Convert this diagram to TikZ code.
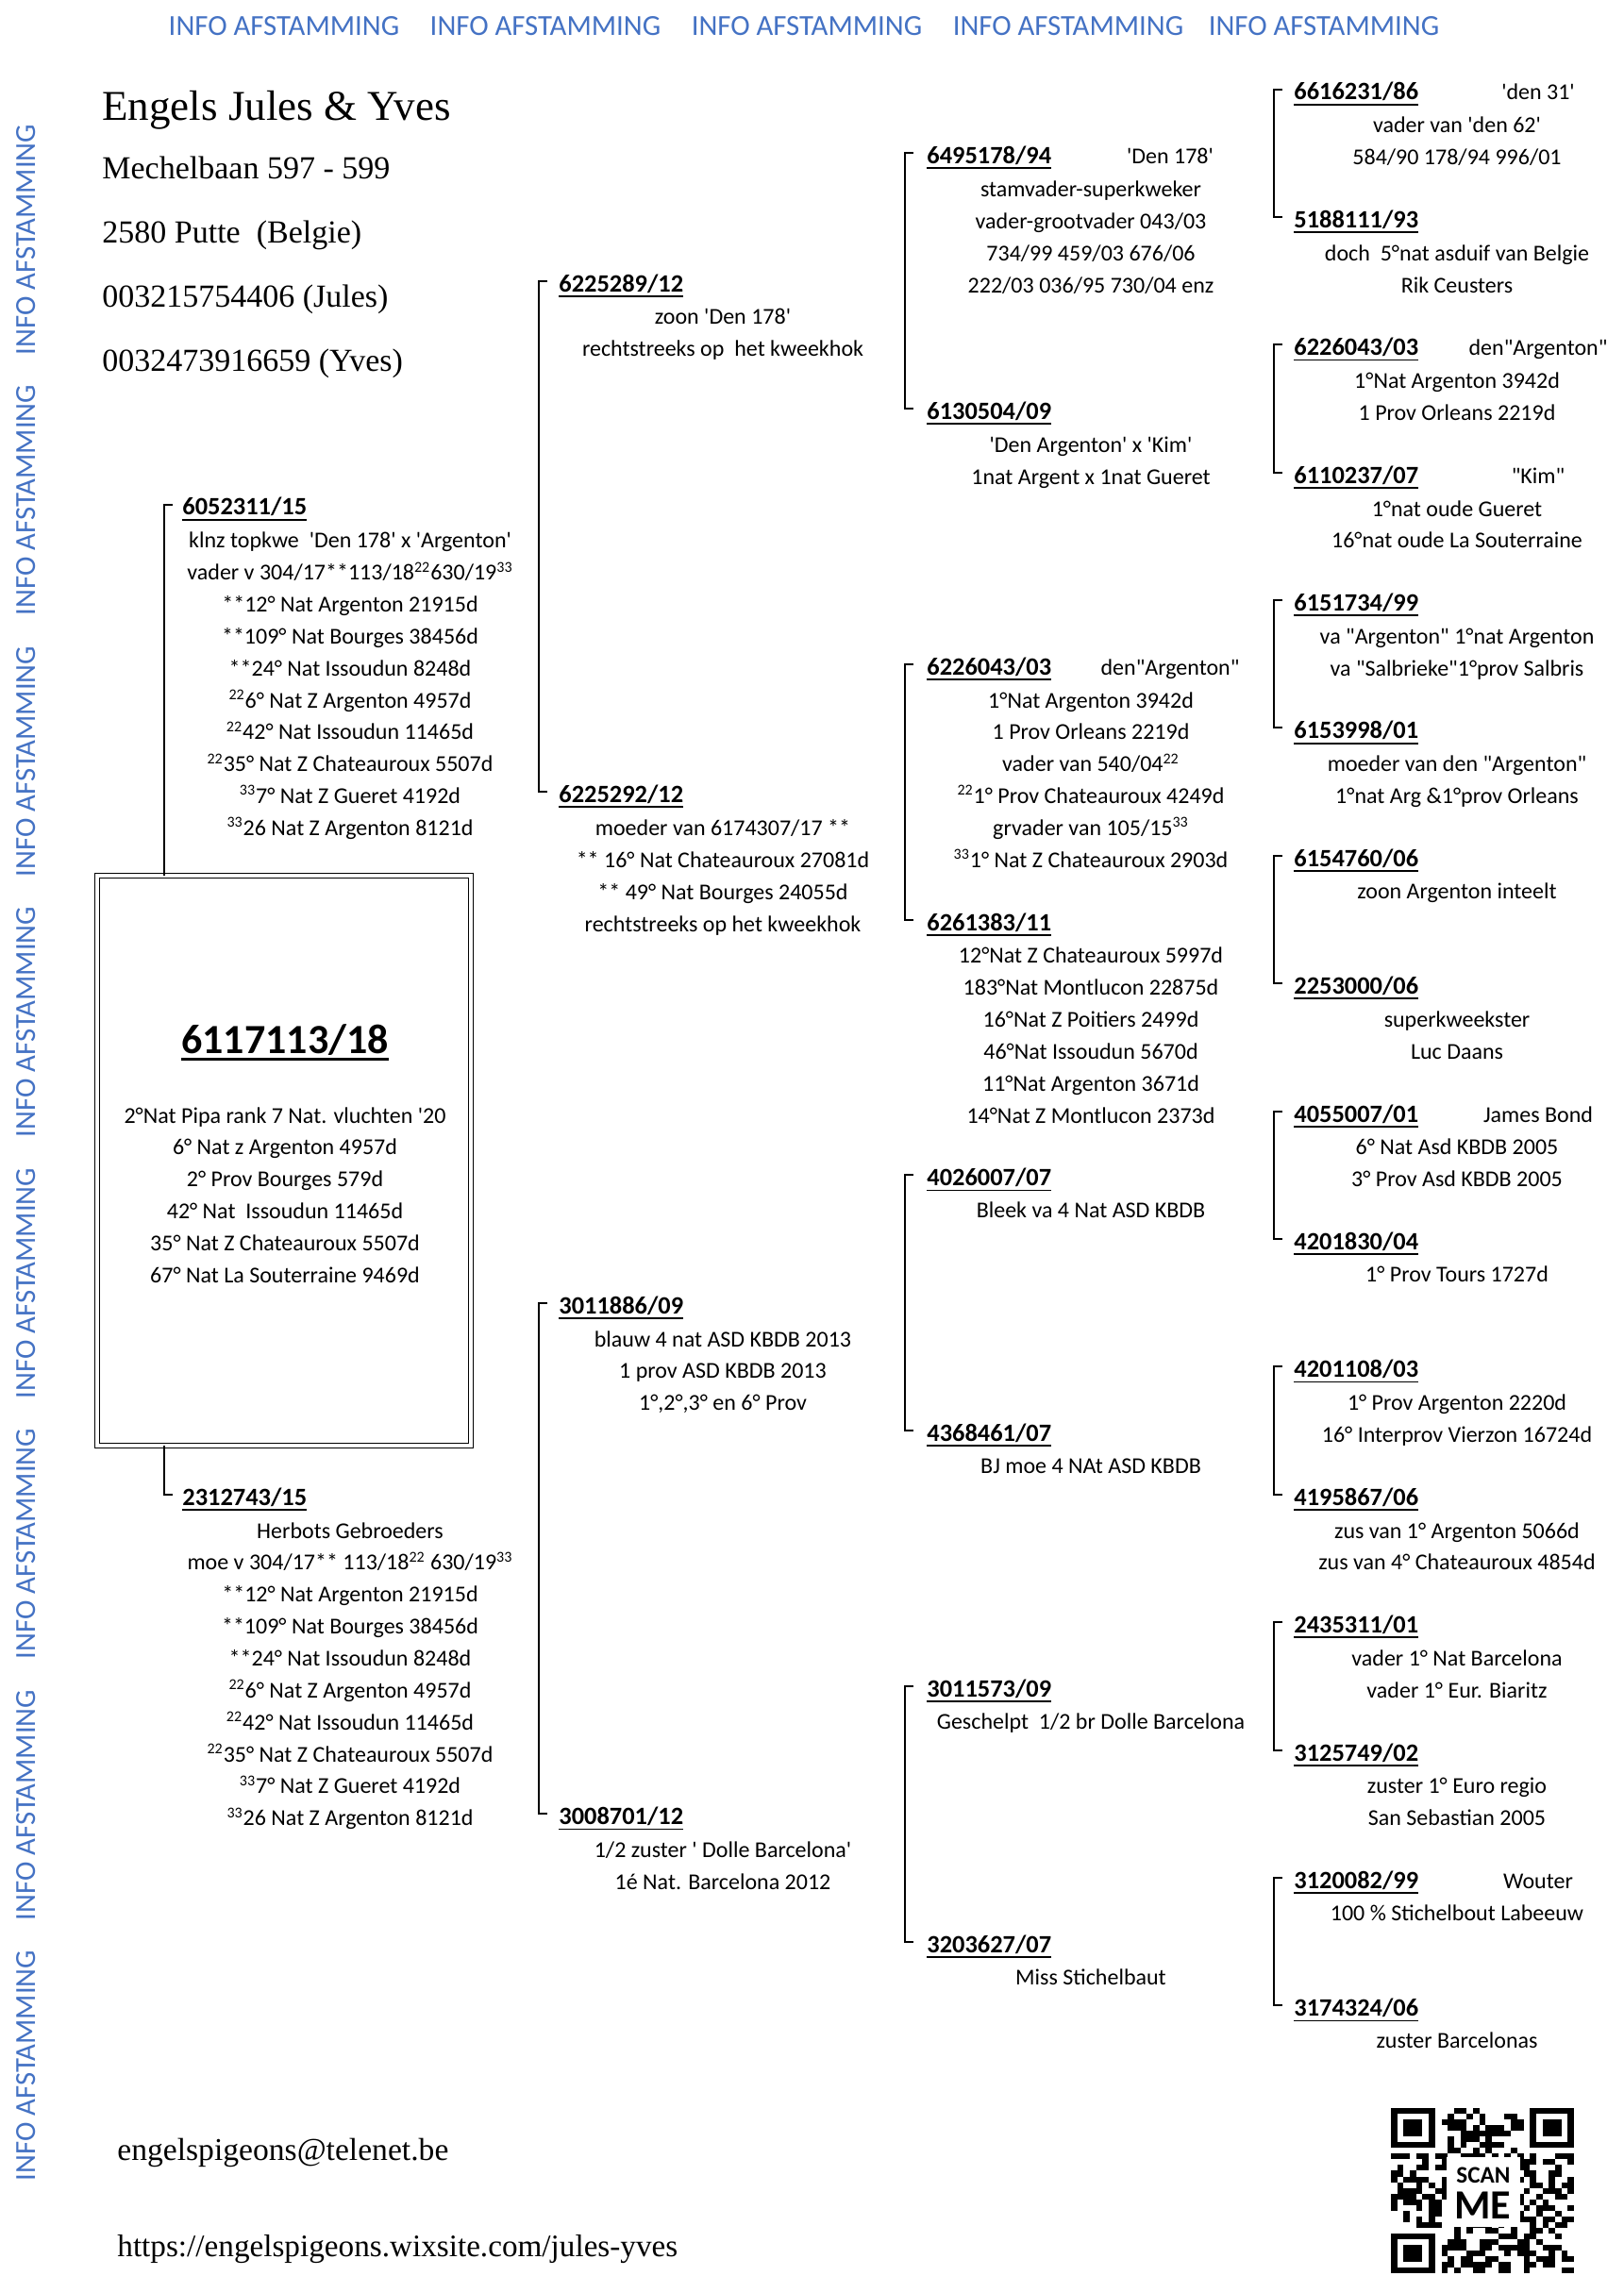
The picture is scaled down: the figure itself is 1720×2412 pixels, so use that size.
\documentclass[tikz,border=0pt]{standalone}
\usepackage{fontspec}
\newfontfamily\calibri{Carlito}[Ligatures=TeXOff]
\newfontfamily\headfont{Liberation Serif}
\definecolor{infoBlue}{HTML}{4472C4}
% row grid of the pedigree, in pixels of the page
\newcommand\rowy[1]{97+33.846*(#1)}
% underlined text: depth, thickness, text
\newcommand\undl[3]{\setbox0=\hbox{#3}\rlap{\copy0}\rule[-#1]{\wd0}{#2}}
\newcommand\idul[1]{\undl{2.8pt}{0.9pt}{#1}}
\tikzset{
  banner/.style={text=infoBlue, inner sep=0pt, font=\calibri\fontsize{15.4}{18}\selectfont},
  heading/.style={anchor=base west, inner sep=0pt, font=\headfont\fontsize{22.5}{26}\selectfont},
  address/.style={anchor=base west, inner sep=0pt, font=\headfont\fontsize{17}{20}\selectfont},
  pid/.style={anchor=base west, inner sep=0pt, font=\calibri\fontsize{13.2}{16}\selectfont\bfseries},
  nick/.style={anchor=base, inner sep=0pt, font=\calibri\fontsize{12}{16.92}\selectfont},
  info/.style={anchor=north, align=center, inner sep=0pt, font=\calibri\fontsize{12}{16.92}\selectfont, execute at begin node=\strut},
  subject/.style={draw, double, double distance=2pt, line width=0.6pt, minimum width=197.8pt, minimum height=301.8pt, inner sep=0pt},
  subjid/.style={anchor=base, inner sep=0pt, font=\calibri\fontsize{22}{26}\selectfont\bfseries},
  bracket/.style={draw, line width=1pt}
}
\begin{document}
\begin{tikzpicture}[x=0.5pt, y=-0.5pt]
  \useasboundingbox (0,0) rectangle (1720,2412);
  \fill[white] (0,0) rectangle (1720,2412);

  % banners
  \foreach \xx [count=\n] in {301,578,855,1132,1403}
    \node[banner] (top\n) at (\xx,28) {INFO AFSTAMMING};
  \foreach \yy [count=\n] in {254,530,807,1083,1360,1636,1913,2189}
    \node[banner, rotate=90] (side\n) at (28,\yy) {INFO AFSTAMMING};

  % breeder
  \node[heading] (name) at (108,128) {Engels Jules \& Yves};
  \node[address] (street) at (108,190) {Mechelbaan 597 - 599};
  \node[address] (town) at (108,258) {2580 Putte~ (Belgie)};
  \node[address] (telj) at (108,326) {003215754406 (Jules)};
  \node[address] (tely) at (108,394) {0032473916659 (Yves)};
  \node[address, font=\headfont\fontsize{16.8}{20}\selectfont] (mail) at (124,2289) {engelspigeons@telenet.be};
  \node[address, font=\headfont\fontsize{16.6}{20}\selectfont] (site) at (124,2391) {https://engelspigeons.wixsite.com/jules-yves};

  % the bird
  \node[subject] (subject) at (301,1230) {};
  \node[subjid] (subjid) at (302,1116) {\undl{3.8pt}{1.4pt}{6117113/18}};
  \node[info] (subjinfo) at (302,{\rowy{32}-7}) {2°Nat Pipa rank 7 Nat. vluchten '20\\6° Nat z Argenton 4957d\\2° Prov Bourges 579d\\42° Nat~ Issoudun 11465d\\35° Nat Z Chateauroux 5507d\\67° Nat La Souterraine 9469d};

  % parents
  \node[pid] (sire) at (193,{\rowy{13}+9}) {\idul{6052311/15}};
  \node[info] (sireinfo) at (371,{\rowy{14}-7}) {klnz topkwe~ 'Den 178' x 'Argenton'\\vader v 304/17**113/18\textsuperscript{22}630/19\textsuperscript{33}\\**12° Nat Argenton 21915d\\**109° Nat Bourges 38456d\\**24° Nat Issoudun 8248d\\\textsuperscript{22}6° Nat Z Argenton 4957d\\\textsuperscript{22}42° Nat Issoudun 11465d\\\textsuperscript{22}35° Nat Z Chateauroux 5507d\\\textsuperscript{33}7° Nat Z Gueret 4192d\\\textsuperscript{33}26 Nat Z Argenton 8121d};
  \node[pid] (dam) at (193,{\rowy{44}+9}) {\idul{2312743/15}};
  \node[info] (daminfo) at (371,{\rowy{45}-7}) {Herbots Gebroeders\\moe v 304/17** 113/18\textsuperscript{22} 630/19\textsuperscript{33}\\**12° Nat Argenton 21915d\\**109° Nat Bourges 38456d\\**24° Nat Issoudun 8248d\\\textsuperscript{22}6° Nat Z Argenton 4957d\\\textsuperscript{22}42° Nat Issoudun 11465d\\\textsuperscript{22}35° Nat Z Chateauroux 5507d\\\textsuperscript{33}7° Nat Z Gueret 4192d\\\textsuperscript{33}26 Nat Z Argenton 8121d};

  % grandparents
  \node[pid] (ss) at (592,{\rowy{6}+9}) {\idul{6225289/12}};
  \node[info] (ssinfo) at (766,{\rowy{7}-7}) {zoon 'Den 178'\\rechtstreeks op~ het kweekhok};
  \node[pid] (sd) at (592,{\rowy{22}+9}) {\idul{6225292/12}};
  \node[info] (sdinfo) at (766,{\rowy{23}-7}) {moeder van 6174307/17 **\\** 16° Nat Chateauroux 27081d\\** 49° Nat Bourges 24055d\\rechtstreeks op het kweekhok};
  \node[pid] (ds) at (592,{\rowy{38}+9}) {\idul{3011886/09}};
  \node[info] (dsinfo) at (766,{\rowy{39}-7}) {blauw 4 nat ASD KBDB 2013\\1 prov ASD KBDB 2013\\1°,2°,3° en 6° Prov};
  \node[pid] (dd) at (592,{\rowy{54}+9}) {\idul{3008701/12}};
  \node[info] (ddinfo) at (766,{\rowy{55}-7}) {1/2 zuster ' Dolle Barcelona'\\1é Nat. Barcelona 2012};

  % great-grandparents
  \node[pid] (sss) at (982,{\rowy{2}+9}) {\idul{6495178/94}};
  \node[nick] (sssnick) at (1240,{\rowy{2}+9}) {'Den 178'};
  \node[info] (sssinfo) at (1156,{\rowy{3}-7}) {stamvader-superkweker\\vader-grootvader 043/03\\734/99 459/03 676/06\\222/03 036/95 730/04 enz};
  \node[pid] (ssd) at (982,{\rowy{10}+9}) {\idul{6130504/09}};
  \node[info] (ssdinfo) at (1156,{\rowy{11}-7}) {'Den Argenton' x 'Kim'\\1nat Argent x 1nat Gueret};
  \node[pid] (sds) at (982,{\rowy{18}+9}) {\idul{6226043/03}};
  \node[nick] (sdsnick) at (1240,{\rowy{18}+9}) {den"Argenton"};
  \node[info] (sdsinfo) at (1156,{\rowy{19}-7}) {1°Nat Argenton 3942d\\1 Prov Orleans 2219d\\vader van 540/04\textsuperscript{22}\\\textsuperscript{22}1° Prov Chateauroux 4249d\\grvader van 105/15\textsuperscript{33}\\\textsuperscript{33}1° Nat Z Chateauroux 2903d};
  \node[pid] (sdd) at (982,{\rowy{26}+9}) {\idul{6261383/11}};
  \node[info] (sddinfo) at (1156,{\rowy{27}-7}) {12°Nat Z Chateauroux 5997d\\183°Nat Montlucon 22875d\\16°Nat Z Poitiers 2499d\\46°Nat Issoudun 5670d\\11°Nat Argenton 3671d\\14°Nat Z Montlucon 2373d};
  \node[pid] (dss) at (982,{\rowy{34}+9}) {\idul{4026007/07}};
  \node[info] (dssinfo) at (1156,{\rowy{35}-15}) {Bleek va 4 Nat ASD KBDB};
  \node[pid] (dsd) at (982,{\rowy{42}+9}) {\idul{4368461/07}};
  \node[info] (dsdinfo) at (1156,{\rowy{43}-15}) {BJ moe 4 NAt ASD KBDB};
  \node[pid] (dds) at (982,{\rowy{50}+9}) {\idul{3011573/09}};
  \node[info] (ddsinfo) at (1156,{\rowy{51}-15}) {Geschelpt~ 1/2 br Dolle Barcelona};
  \node[pid] (ddd) at (982,{\rowy{58}+9}) {\idul{3203627/07}};
  \node[info] (dddinfo) at (1156,{\rowy{59}-15}) {Miss Stichelbaut};

  % fourth generation
  \node[pid] (ssss) at (1371,{\rowy{0}+9}) {\idul{6616231/86}};
  \node[nick] (ssssnick) at (1630,{\rowy{0}+9}) {'den 31'};
  \node[info] (ssssinfo) at (1544,{\rowy{1}-7}) {vader van 'den 62'\\584/90 178/94 996/01};
  \node[pid] (sssd) at (1371,{\rowy{4}+9}) {\idul{5188111/93}};
  \node[info] (sssdinfo) at (1544,{\rowy{5}-7}) {doch~ 5°nat asduif van Belgie\\Rik Ceusters};
  \node[pid] (ssds) at (1371,{\rowy{8}+9}) {\idul{6226043/03}};
  \node[nick] (ssdsnick) at (1630,{\rowy{8}+9}) {den"Argenton"};
  \node[info] (ssdsinfo) at (1544,{\rowy{9}-7}) {1°Nat Argenton 3942d\\1 Prov Orleans 2219d};
  \node[pid] (ssdd) at (1371,{\rowy{12}+9}) {\idul{6110237/07}};
  \node[nick] (ssddnick) at (1630,{\rowy{12}+9}) {"Kim"};
  \node[info] (ssddinfo) at (1544,{\rowy{13}-7}) {1°nat oude Gueret\\16°nat oude La Souterraine};
  \node[pid] (sdss) at (1371,{\rowy{16}+9}) {\idul{6151734/99}};
  \node[info] (sdssinfo) at (1544,{\rowy{17}-7}) {va "Argenton" 1°nat Argenton\\va "Salbrieke"1°prov Salbris};
  \node[pid] (sdsd) at (1371,{\rowy{20}+9}) {\idul{6153998/01}};
  \node[info] (sdsdinfo) at (1544,{\rowy{21}-7}) {moeder van den "Argenton"\\1°nat Arg \&1°prov Orleans};
  \node[pid] (sdds) at (1371,{\rowy{24}+9}) {\idul{6154760/06}};
  \node[info] (sddsinfo) at (1544,{\rowy{25}-15}) {zoon Argenton inteelt};
  \node[pid] (sddd) at (1371,{\rowy{28}+9}) {\idul{2253000/06}};
  \node[info] (sdddinfo) at (1544,{\rowy{29}-7}) {superkweekster\\Luc Daans};
  \node[pid] (dsss) at (1371,{\rowy{32}+9}) {\idul{4055007/01}};
  \node[nick] (dsssnick) at (1630,{\rowy{32}+9}) {James Bond};
  \node[info] (dsssinfo) at (1544,{\rowy{33}-7}) {6° Nat Asd KBDB 2005\\3° Prov Asd KBDB 2005};
  \node[pid] (dssd) at (1371,{\rowy{36}+9}) {\idul{4201830/04}};
  \node[info] (dssdinfo) at (1544,{\rowy{37}-15}) {1° Prov Tours 1727d};
  \node[pid] (dsds) at (1371,{\rowy{40}+9}) {\idul{4201108/03}};
  \node[info] (dsdsinfo) at (1544,{\rowy{41}-7}) {1° Prov Argenton 2220d\\16° Interprov Vierzon 16724d};
  \node[pid] (dsdd) at (1371,{\rowy{44}+9}) {\idul{4195867/06}};
  \node[info] (dsddinfo) at (1544,{\rowy{45}-7}) {zus van 1° Argenton 5066d\\zus van 4° Chateauroux 4854d};
  \node[pid] (ddss) at (1371,{\rowy{48}+9}) {\idul{2435311/01}};
  \node[info] (ddssinfo) at (1544,{\rowy{49}-7}) {vader 1° Nat Barcelona\\vader 1° Eur. Biaritz};
  \node[pid] (ddsd) at (1371,{\rowy{52}+9}) {\idul{3125749/02}};
  \node[info] (ddsdinfo) at (1544,{\rowy{53}-7}) {zuster 1° Euro regio\\San Sebastian 2005};
  \node[pid] (ddds) at (1371,{\rowy{56}+9}) {\idul{3120082/99}};
  \node[nick] (dddsnick) at (1630,{\rowy{56}+9}) {Wouter};
  \node[info] (dddsinfo) at (1544,{\rowy{57}-15}) {100 \% Stichelbout Labeeuw};
  \node[pid] (dddd) at (1371,{\rowy{60}+9}) {\idul{3174324/06}};
  \node[info] (ddddinfo) at (1544,{\rowy{61}-15}) {zuster Barcelonas};

  % brackets
  \draw[bracket] ([shift={(-10,-5)}]sire.west) -- ++(-9,0) coordinate (sv) -- (sv |- subject.north);
  \draw[bracket] ([shift={(-10,-5)}]dam.west) -- ++(-9,0) coordinate (dv) -- (dv |- subject.south);
  \draw[bracket] ([shift={(-12,-5)}]ss.west) -- ++(-9,0) |- ([shift={(-12,-5)}]sd.west);
  \draw[bracket] ([shift={(-12,-5)}]ds.west) -- ++(-9,0) |- ([shift={(-12,-5)}]dd.west);
  \draw[bracket] ([shift={(-14,-5)}]sss.west) -- ++(-9,0) |- ([shift={(-14,-5)}]ssd.west);
  \draw[bracket] ([shift={(-14,-5)}]sds.west) -- ++(-9,0) |- ([shift={(-14,-5)}]sdd.west);
  \draw[bracket] ([shift={(-14,-5)}]dss.west) -- ++(-9,0) |- ([shift={(-14,-5)}]dsd.west);
  \draw[bracket] ([shift={(-14,-5)}]dds.west) -- ++(-9,0) |- ([shift={(-14,-5)}]ddd.west);
  \foreach \up/\low in {ssss/sssd, ssds/ssdd, sdss/sdsd, sdds/sddd, dsss/dssd, dsds/dsdd, ddss/ddsd, ddds/dddd}
    \draw[bracket] ([shift={(-12,-5)}]\up.west) -- ++(-9,0) |- ([shift={(-12,-5)}]\low.west);

  % qr code
  \coordinate (qr) at (1474,2234);
  \pgfmathsetseed{2412}
  \foreach \qa in {0,...,28}{
    \foreach \qb in {0,...,28}{
      \pgfmathrandominteger{\qbit}{0}{1}
      \pgfmathtruncatemacro{\qskip}{((\qa<8)&&(\qb<8)) || ((\qa>20)&&(\qb<8)) || ((\qa<8)&&(\qb>20))}
      \ifnum\qbit=1 \ifnum\qskip=0
        \fill ([shift={(\qa*6.69,\qb*6.04)}]qr) rectangle ++(6.69,6.04);
      \fi\fi
    }
  }
  \foreach \qa/\qb in {0/0,22/0,0/22}{
    \fill ([shift={(\qa*6.69,\qb*6.04)}]qr) rectangle ++(46.83,42.28);
    \fill[white] ([shift={(\qa*6.69+6.69,\qb*6.04+6.04)}]qr) rectangle ++(33.45,30.2);
    \fill ([shift={(\qa*6.69+13.38,\qb*6.04+12.08)}]qr) rectangle ++(20.07,18.12);
  }
  \fill[white] (1533,2286) rectangle (1611,2360);
  \node[inner sep=0pt, font=\calibri\fontsize{12.6}{14}\selectfont\bfseries] (scan) at (1572,2305) {SCAN};
  \node[inner sep=0pt, font=\calibri\fontsize{22}{24}\selectfont\bfseries] (me) at (1571,2337) {ME};
\end{tikzpicture}
\end{document}
